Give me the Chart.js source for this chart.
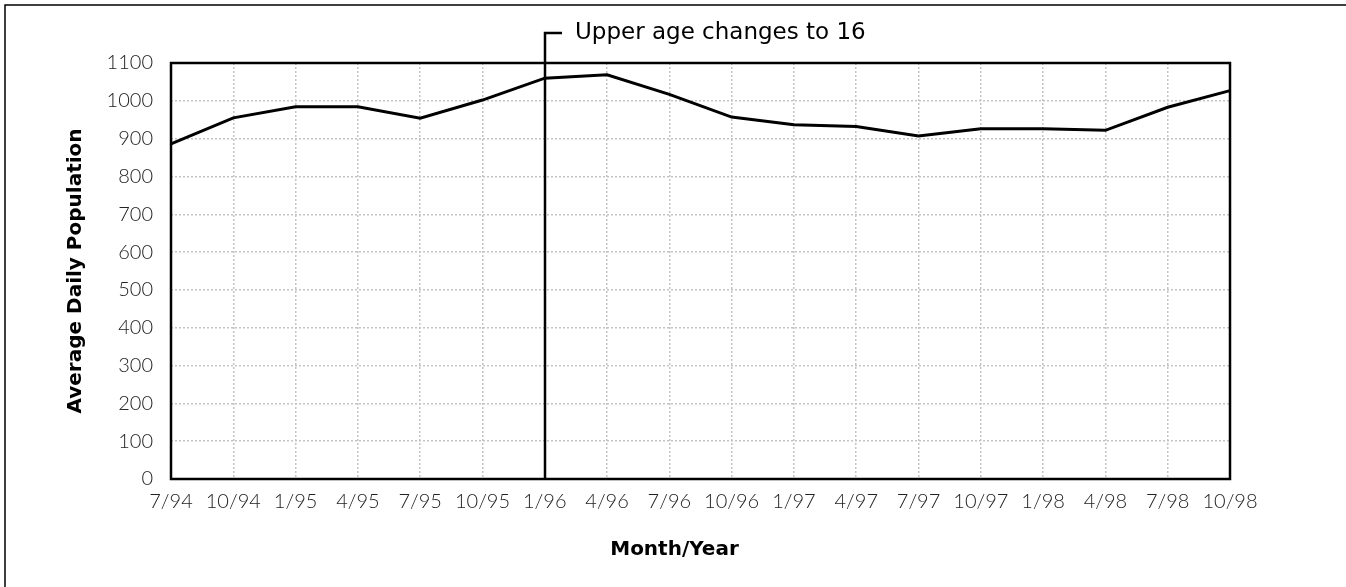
<!DOCTYPE html>
<html>
<head>
<meta charset="utf-8">
<script src="https://cdn.jsdelivr.net/npm/chart.js@4"></script>
<style>
  html, body { margin: 0; padding: 0; background: #fff; }
  #wrap { width: 1346px; height: 587px; position: relative; }
</style>
</head>
<body>
<div id="wrap"><canvas id="chart" width="1346" height="587"></canvas></div>
<script>
'use strict';

// ─── Data ─────────────────────────────────────────────────────────────────────
const months = ['7/94', '10/94', '1/95', '4/95', '7/95', '10/95', '1/96', '4/96', '7/96',
                '10/96', '1/97', '4/97', '7/97', '10/97', '1/98', '4/98', '7/98', '10/98'];
const population = [886, 955, 984, 984, 954, 1002, 1060, 1069, 1017,
                    957, 937, 932, 907, 926, 926, 922, 983, 1027];
const yTicks = [0, 100, 200, 300, 400, 500, 600, 700, 800, 900, 1000, 1100];

const markerMonth = '1/96';
const markerText  = 'Upper age changes to 16';
const xTitle      = 'Month/Year';
const yTitle      = 'Average Daily Population';

// ─── Plugins ──────────────────────────────────────────────────────────────────
const framePlugin = {
  id: 'frame',
  beforeDraw(chart) {
    const { ctx, width } = chart;
    ctx.save();
    ctx.strokeStyle = '#000';
    ctx.lineWidth = 1.5;
    ctx.beginPath();
    ctx.moveTo(5, chart.height);
    ctx.lineTo(5, 5);
    ctx.lineTo(width, 5);
    ctx.stroke();
    ctx.restore();
  },
  afterDatasetsDraw(chart) {
    const { ctx, chartArea: a } = chart;
    ctx.save();
    ctx.strokeStyle = '#000';
    ctx.lineWidth = 2.5;
    ctx.strokeRect(a.left, a.top, a.right - a.left, a.bottom - a.top);
    // x-axis title sits a little left of the plot centre in the original
    ctx.fillStyle = '#000';
    ctx.font = "bold 20px 'DejaVu Sans'";
    ctx.textAlign = 'center';
    ctx.textBaseline = 'middle';
    ctx.fillText(xTitle, (a.left + a.right) / 2 - 26, 550);
    ctx.restore();
  },
};

const markerPlugin = {
  id: 'marker',
  afterDatasetsDraw(chart) {
    const { ctx, chartArea: a } = chart;
    const x = Math.round(chart.scales.x.getPixelForValue(months.indexOf(markerMonth)));
    const topY = 33;
    ctx.save();
    ctx.strokeStyle = '#000';
    ctx.lineWidth = 2.5;
    ctx.beginPath();
    ctx.moveTo(x, a.bottom);
    ctx.lineTo(x, topY);
    ctx.lineTo(x + 17, topY);
    ctx.stroke();
    ctx.fillStyle = '#000';
    ctx.font = "23px 'DejaVu Sans'";
    ctx.textBaseline = 'middle';
    ctx.fillText(markerText, x + 30, topY);
    ctx.restore();
  },
};

// ─── Chart ────────────────────────────────────────────────────────────────────
const tickFont  = { family: 'Lato', size: 20, weight: 300 };
const titleFont = { family: "'DejaVu Sans'", size: 20, weight: 'bold' };
const gridStyle = { color: '#c4c4c4', lineWidth: 1.5, drawTicks: false };

function buildChart() {
  new Chart(document.getElementById('chart').getContext('2d'), {
    type: 'line',
    data: {
      labels: months,
      datasets: [{
        data: population,
        borderColor: '#000',
        borderWidth: 3,
        pointRadius: 0,
        tension: 0,
        fill: false,
      }],
    },
    options: {
      responsive: false,
      animation: false,
      layout: { padding: { left: 0, right: 116, top: 63, bottom: 0 } },
      plugins: {
        legend: { display: false },
        tooltip: { enabled: false },
      },
      scales: {
        x: {
          type: 'category',
          offset: false,
          grid: gridStyle,
          border: { display: false, dash: [2, 2] },
          ticks: { font: tickFont, color: '#222', padding: 11, maxRotation: 0, autoSkip: false },
          afterFit: (s) => { s.height = 108; },
        },
        y: {
          min: 0,
          max: 1100,
          afterBuildTicks: (s) => { s.ticks = yTicks.map((v) => ({ value: v })); },
          grid: gridStyle,
          border: { display: false, dash: [2, 2] },
          ticks: { font: tickFont, color: '#222', padding: 18, callback: (v) => String(v) },
          title: { display: true, text: yTitle, font: titleFont, color: '#000', padding: { top: 64, bottom: 0 } },
          afterFit: (s) => { s.width = 171; },
        },
      },
    },
    plugins: [framePlugin, markerPlugin],
  });
}

Promise.all([
  document.fonts.load('300 20px Lato'),
  document.fonts.load("bold 20px 'DejaVu Sans'"),
  document.fonts.load("23px 'DejaVu Sans'"),
]).then(buildChart, buildChart);
</script>
</body>
</html>
